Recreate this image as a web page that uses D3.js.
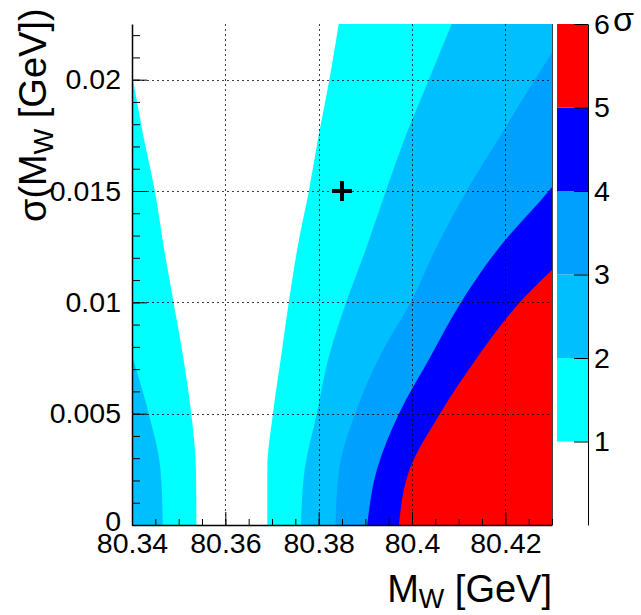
<!DOCTYPE html>
<html>
<head>
<meta charset="utf-8">
<script src="https://cdn.jsdelivr.net/npm/d3@7"></script>
<style>
  body { margin: 0; background: #fff; }
  svg { display: block; font-family: "Liberation Sans", Arial, sans-serif; }
</style>
</head>
<body>
<svg id="chart"></svg>
<script>
const sigmaGrid = [0, 0.0025, 0.005, 0.0075, 0.01, 0.0125, 0.015, 0.0175, 0.02, 0.0225];

// M_W edges (GeV) of the region below n sigma, one value per sigmaGrid entry
const left1  = [80.3538, 80.3537, 80.3527, 80.3510, 80.3489, 80.3468, 80.3449, 80.3424, 80.3402, 80.3377];
const right1 = [80.3690, 80.3690, 80.3702, 80.3719, 80.3736, 80.3755, 80.3779, 80.3800, 80.3823, 80.3843];
const left2  = [80.3466, 80.3461, 80.3436, 80.3402, 80.3368, 80.3325, 80.3280, 80.3235, 80.3188, 80.3141];
const right2 = [80.3762, 80.3770, 80.3796, 80.3821, 80.3859, 80.3903, 80.3944, 80.3987, 80.4036, 80.4085];
const right3 = [80.3836, 80.3844, 80.3878, 80.3929, 80.3997, 80.4053, 80.4117, 80.4190, 80.4263, 80.4340];
const right4 = [80.3904, 80.3925, 80.3972, 80.4038, 80.4105, 80.4188, 80.4293, 80.4381, 80.4466, 80.4552];
const right5 = [80.3972, 80.3995, 80.4060, 80.4139, 80.4231, 80.4350, 80.4450, 80.4550, 80.4650, 80.4750];

// palette levels (in sigma) and the fill of each band
const levels = [1, 2, 3, 4, 5, 6];
const bandColors = ["#00ffff", "#00bfff", "#00a0ff", "#0000ff", "#ff0000"];

// the "+" marker
const markerMass = [80.385];
const markerSigma = [0.015];

// axis ticks
const xTicks = [80.34, 80.36, 80.38, 80.40, 80.42];
const yTicks = [0, 0.005, 0.01, 0.015, 0.02];
const xDomain = [80.34, 80.43];
const yDomain = [0, 0.0225];

const W = 641, H = 615;
const plot = { left: 132, right: 552, top: 24, bottom: 525 };
const bar = { left: 557, right: 588 };

const svg = d3.select("#chart").attr("width", W).attr("height", H);

const x = d3.scaleLinear().domain(xDomain).range([plot.left, plot.right]);
const y = d3.scaleLinear().domain(yDomain).range([plot.bottom, plot.top]);

svg.append("clipPath").attr("id", "clip")
  .append("rect")
  .attr("x", plot.left).attr("y", plot.top)
  .attr("width", plot.right - plot.left).attr("height", plot.bottom - plot.top);

const g = svg.append("g").attr("clip-path", "url(#clip)");

// everything above 5 sigma is red, then paint the lower bands on top
g.append("rect")
  .attr("x", plot.left).attr("y", plot.top)
  .attr("width", plot.right - plot.left).attr("height", plot.bottom - plot.top)
  .attr("fill", bandColors[4]);

const farLeft = plot.left - 20;
const bands = [
  { lo: null,  hi: right5, fill: bandColors[3] },
  { lo: null,  hi: right4, fill: bandColors[2] },
  { lo: null,  hi: right3, fill: bandColors[1] },
  { lo: left2, hi: right2, fill: bandColors[0] },
  { lo: left1, hi: right1, fill: "#ffffff" }
];

const area = d3.area()
  .curve(d3.curveMonotoneY)
  .y(d => y(d.s))
  .x0(d => d.lo == null ? farLeft : x(d.lo))
  .x1(d => x(d.hi));

bands.forEach(b => {
  const pts = sigmaGrid.map((s, i) => ({ s: s, lo: b.lo ? b.lo[i] : null, hi: b.hi[i] }));
  g.append("path").attr("d", area(pts)).attr("fill", b.fill);
});

// grid
const grid = svg.append("g")
  .attr("stroke", "#000")
  .attr("stroke-width", 1)
  .attr("stroke-dasharray", "2,3")
  .attr("opacity", 0.75);

grid.selectAll(".gx")
  .data(xTicks.filter(v => v > xDomain[0]))
  .enter().append("line")
  .attr("x1", d => Math.round(x(d)) + 0.5).attr("x2", d => Math.round(x(d)) + 0.5)
  .attr("y1", plot.top).attr("y2", plot.bottom);

grid.selectAll(".gy")
  .data(yTicks.filter(v => v > yDomain[0]))
  .enter().append("line")
  .attr("y1", d => Math.round(y(d)) + 0.5).attr("y2", d => Math.round(y(d)) + 0.5)
  .attr("x1", plot.left).attr("x2", plot.right);

// marker
const mk = svg.append("g")
  .attr("stroke", "#000").attr("stroke-width", 4);
markerMass.forEach((m, i) => {
  const cx = x(m), cy = y(markerSigma[i]);
  mk.append("line").attr("x1", cx - 10).attr("x2", cx + 10).attr("y1", cy).attr("y2", cy);
  mk.append("line").attr("x1", cx).attr("x2", cx).attr("y1", cy - 10).attr("y2", cy + 10);
});

// right edge of the frame
svg.append("line")
  .attr("x1", plot.right + 0.5).attr("x2", plot.right + 0.5)
  .attr("y1", plot.top).attr("y2", plot.bottom)
  .attr("stroke", "#444").attr("stroke-width", 1);

// axes
const fontSize = 28.5;

const xAxisMinor = d3.axisBottom(x).ticks(18).tickSizeInner(-6).tickSizeOuter(0).tickFormat("");
svg.append("g").attr("transform", `translate(0,${plot.bottom})`).call(xAxisMinor)
  .call(a => a.select(".domain").remove());

const xAxis = d3.axisBottom(x).tickValues(xTicks).tickSizeInner(-13).tickSizeOuter(0)
  .tickPadding(8).tickFormat(d3.format("~g"));
svg.append("g").attr("transform", `translate(0,${plot.bottom})`).call(xAxis)
  .call(a => a.selectAll("text").attr("font-size", fontSize).attr("fill", "#000"))
  .call(a => a.select(".domain").attr("stroke-width", 1.5));

const yAxisMinor = d3.axisLeft(y).ticks(22).tickSizeInner(-8).tickSizeOuter(0).tickFormat("");
svg.append("g").attr("transform", `translate(${plot.left},0)`).call(yAxisMinor)
  .call(a => a.select(".domain").remove());

const yAxis = d3.axisLeft(y).tickValues(yTicks).tickSizeInner(-15).tickSizeOuter(0)
  .tickPadding(11).tickFormat(d3.format("~g"));
svg.append("g").attr("transform", `translate(${plot.left},0)`).call(yAxis)
  .call(a => a.selectAll("text").attr("font-size", fontSize).attr("fill", "#000"))
  // the bottom "0" sits a little higher so it clears 80.34
  .call(a => a.selectAll(".tick text").filter(d => d === 0).attr("dy", "0.18em"))
  .call(a => a.select(".domain").attr("stroke-width", 1.5));

svg.selectAll(".tick line").attr("stroke", "#000");

// axis titles
const xTitle = svg.append("text")
  .attr("x", plot.right).attr("y", 602)
  .attr("text-anchor", "end").attr("font-size", 38);
xTitle.append("tspan").text("M");
xTitle.append("tspan").attr("font-size", 27).attr("dy", 6).text("W");
xTitle.append("tspan").attr("dy", -6).text(" [GeV]");

const yTitle = svg.append("text")
  .attr("transform", "translate(46,222) rotate(-90)")
  .attr("text-anchor", "start").attr("font-size", 38);
yTitle.append("tspan").text("σ(M");
yTitle.append("tspan").attr("font-size", 27).attr("dy", 7).text("W");
yTitle.append("tspan").attr("dy", -7).text(" [GeV])");

// palette
const z = d3.scaleLinear().domain([0, 6]).range([plot.bottom, plot.top]);
svg.append("g").selectAll("rect")
  .data(d3.pairs(levels))
  .enter().append("rect")
  .attr("x", bar.left).attr("width", bar.right - bar.left)
  .attr("y", d => z(d[1])).attr("height", d => z(d[0]) - z(d[1]))
  .attr("fill", (d, i) => bandColors[i]);

const zAxis = d3.axisRight(z).tickValues(levels).tickSizeInner(-14).tickSizeOuter(0)
  .tickPadding(6).tickFormat(d3.format("d"));
svg.append("g").attr("transform", `translate(${bar.right},0)`).call(zAxis)
  .call(a => a.selectAll("text").attr("font-size", fontSize).attr("fill", "#000"))
  .call(a => a.selectAll("line").attr("stroke", "#000"));

svg.append("text")
  .attr("x", 613).attr("y", 31)
  .attr("font-size", 34)
  .text("σ");
</script>
</body>
</html>
